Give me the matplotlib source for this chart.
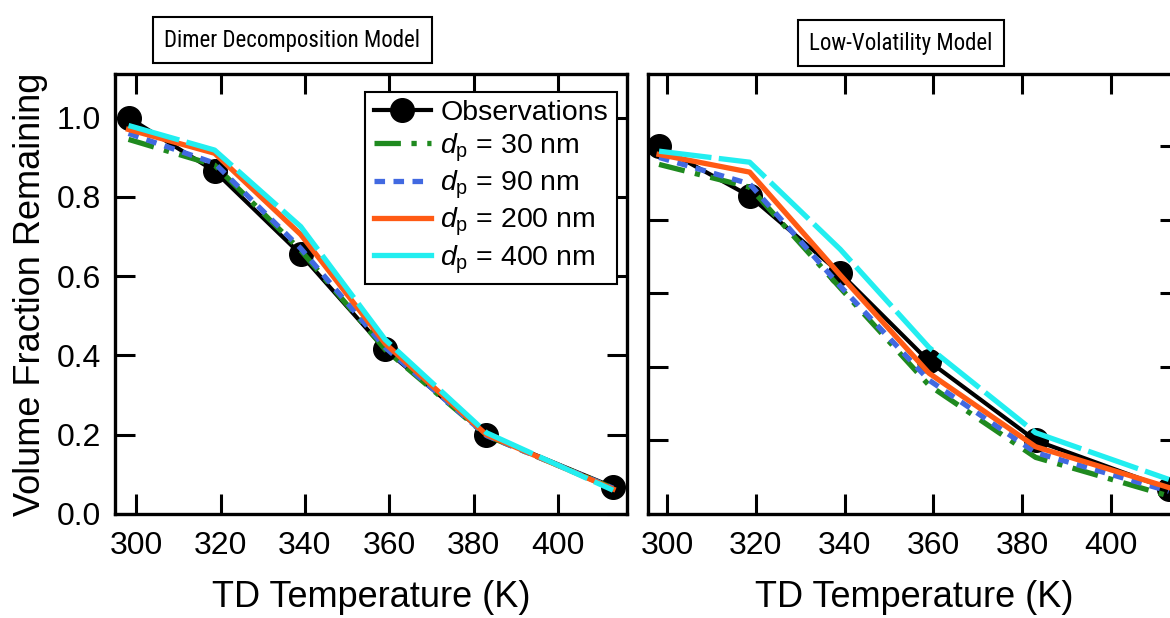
import numpy as np
import matplotlib
matplotlib.use('Agg')
import matplotlib.pyplot as plt
from matplotlib.lines import Line2D
from matplotlib import font_manager

plt.rcParams['font.family'] = ['Liberation Sans', 'DejaVu Sans']
plt.rcParams['mathtext.fontset'] = 'custom'
plt.rcParams['mathtext.rm'] = 'Liberation Sans'
plt.rcParams['mathtext.it'] = 'Liberation Sans:italic'

# temperatures (K)
temps = [298.2, 318.6, 339.0, 359.0, 383.0, 413.0]
observations = [1.0, 0.865, 0.655, 0.415, 0.200, 0.068]

# dimer decomposition model
dimer_30 = [0.945, 0.880, 0.665, 0.415, 0.198, 0.065]
dimer_90 = [0.960, 0.885, 0.670, 0.420, 0.198, 0.065]
dimer_200 = [0.970, 0.910, 0.705, 0.430, 0.200, 0.063]
dimer_400 = [0.980, 0.918, 0.725, 0.440, 0.205, 0.060]

# low-volatility model
lowvol_30 = [0.951, 0.889, 0.615, 0.350, 0.154, 0.049]
lowvol_90 = [0.970, 0.898, 0.620, 0.364, 0.167, 0.062]
lowvol_200 = [0.978, 0.930, 0.650, 0.383, 0.183, 0.072]
lowvol_400 = [0.987, 0.957, 0.720, 0.453, 0.221, 0.094]

labels = [r'$d_{\mathrm{p}}$ = 30 nm', r'$d_{\mathrm{p}}$ = 90 nm',
          r'$d_{\mathrm{p}}$ = 200 nm', r'$d_{\mathrm{p}}$ = 400 nm']
colors = ['#1f8a1f', '#4169e1', '#ff5a14', '#22eef0']
styles = [(0, (5, 2, 1, 2)), (0, (2, 1.6)), '-', (0, (10, 1.4))]

# condensed face for the boxed panel titles, if one is installed
installed = {f.name for f in font_manager.fontManager.ttflist}
narrow = [n for n in ['Liberation Sans Narrow', 'DejaVu Sans Condensed',
                      'Roboto Condensed', 'Open Sans Condensed'] if n in installed]
title_family = narrow + ['Liberation Sans']

fig = plt.figure(figsize=(11.7, 6.18), dpi=100)
ax1 = fig.add_axes([0.0983, 0.1683, 0.4376, 0.712])
ax2 = fig.add_axes([0.5538, 0.1683, 0.4547, 0.712])


def draw_panel(ax, models, xlim, ylim):
    for vals, c, ls in zip(models, colors, styles):
        ax.plot(temps, vals, color=c, linestyle=ls, linewidth=3.8, zorder=3)
    ax.plot(temps, observations, color='black', linewidth=3.0, marker='o',
            markersize=17, zorder=2)
    ax.set_xlim(*xlim)
    ax.set_ylim(*ylim)
    ax.set_xticks([300, 320, 340, 360, 380, 400])
    ax.set_yticks([0.0, 0.2, 0.4, 0.6, 0.8, 1.0])
    ax.tick_params(direction='in', length=14.4, width=2.2, top=True, right=True,
                   labelsize=23, pad=10)
    ax.tick_params(axis='x', pad=12)
    for s in ax.spines.values():
        s.set_linewidth(2.4)
    ax.set_xlabel('TD Temperature (K)', fontsize=26, labelpad=14)


draw_panel(ax1, [dimer_30, dimer_90, dimer_200, dimer_400], (295.0, 416.3), (0, 1.11))
draw_panel(ax2, [lowvol_30, lowvol_90, lowvol_200, lowvol_400], (295.7, 415.5), (0.008, 1.197))
ax1.set_yticklabels(['0.0', '0.2', '0.4', '0.6', '0.8', '1.0'])
ax2.set_yticklabels([])
ax1.set_ylabel('Volume Fraction Remaining', fontsize=26, labelpad=6)

handles = [Line2D([], [], color='black', linewidth=3.0, marker='o', markersize=17)]
for c, ls in zip(colors, styles):
    handles.append(Line2D([], [], color=c, linewidth=3.8,
                          linestyle=ls if ls != styles[3] else '-'))
leg = ax1.legend(handles, ['Observations'] + labels, loc='upper right',
                 bbox_to_anchor=(0.98, 0.96), fontsize=20.5, frameon=True,
                 fancybox=False, handlelength=2.0, handletextpad=0.35,
                 labelspacing=0.18, borderpad=0.3, borderaxespad=0)
leg.get_frame().set_edgecolor('black')
leg.get_frame().set_linewidth(1.5)
leg.get_frame().set_alpha(1)

box = dict(boxstyle='square,pad=0.5', facecolor='white', edgecolor='black', linewidth=1.5)
fig.text(0.250, 0.935, 'Dimer Decomposition Model', ha='center', va='center',
         fontsize=16.5, family=title_family, stretch='condensed', bbox=box)
fig.text(0.770, 0.930, 'Low-Volatility Model', ha='center', va='center',
         fontsize=16.5, family=title_family, stretch='condensed', bbox=box)

fig.savefig('out.png', dpi=100)
